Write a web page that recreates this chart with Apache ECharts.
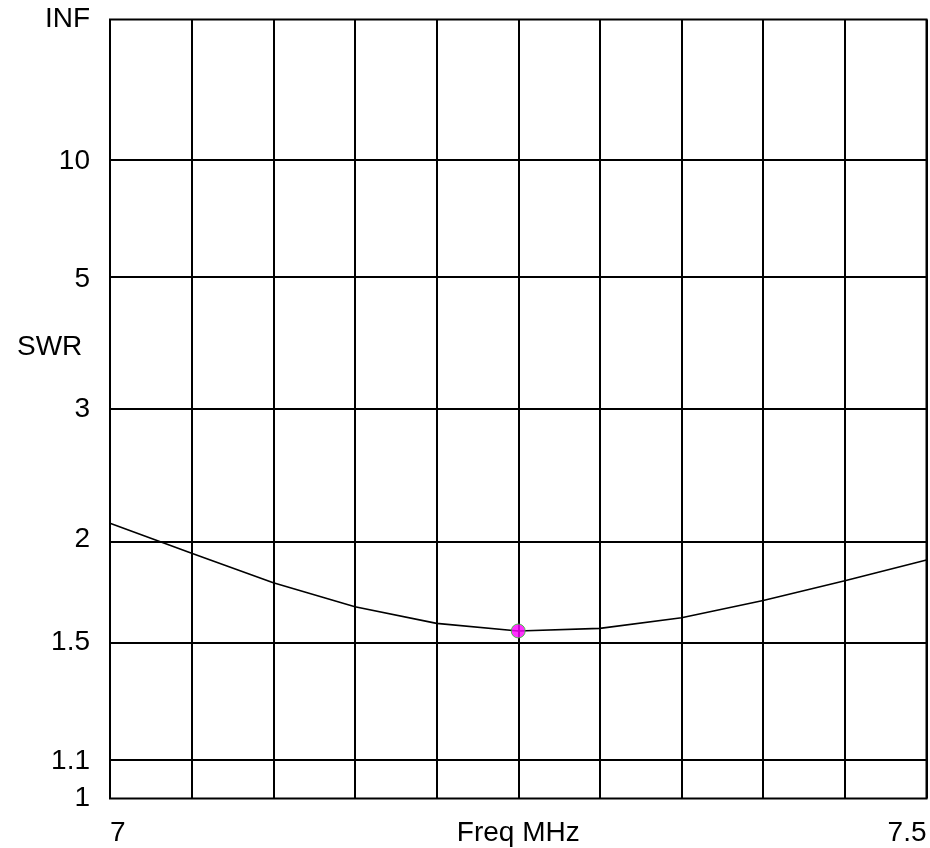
<!DOCTYPE html>
<html>
<head>
<meta charset="utf-8">
<script src="https://cdn.jsdelivr.net/npm/echarts@6/dist/echarts.min.js"></script>
<style>
  html, body { margin: 0; padding: 0; background: #ffffff; }
  #chart { width: 930px; height: 848px; }
</style>
</head>
<body>
<div id="chart"></div>
<script>
// Frequency sweep (MHz) and measured SWR at each step
const freqs = [7.0, 7.05, 7.1, 7.15, 7.2, 7.25, 7.3, 7.35, 7.4, 7.45, 7.5];
const swrValues = [2.093, 1.919, 1.766, 1.653, 1.580, 1.548, 1.559, 1.604, 1.682, 1.776, 1.883];

// Highlighted sweep point (minimum SWR)
const markerFreq = [7.25];
const markerSwr = [1.548];

// SWR scale labels (Infinity drawn as "INF")
const swrTicks = [1, 1.1, 1.5, 2, 3, 5, 10, Infinity];
const swrTickLabels = ['1', '1.1', '1.5', '2', '3', '5', '10', 'INF'];

// X axis end labels
const freqLabels = ['7', '7.5'];

// The vertical scale is linear in reflection coefficient |Γ| = (S-1)/(S+1)
function toRho(s) {
  return s === Infinity ? 1 : (s - 1) / (s + 1);
}

const FONT = '"Liberation Sans", Arial, sans-serif';
const FS = 28;

const tickRhos = swrTicks.map(toRho);
const lineData = freqs.map((f, i) => [f, toRho(swrValues[i])]);
const markerData = markerFreq.map((f, i) => [f, toRho(markerSwr[i])]);

const chart = echarts.init(document.getElementById('chart'), null, { renderer: 'canvas' });

chart.setOption({
  animation: false,
  backgroundColor: '#ffffff',
  grid: {
    left: 110, right: 3.5, top: 19.5, bottom: 49.5,
    outerBoundsMode: 'none',
    containLabel: false,
    show: true, borderColor: '#000000', borderWidth: 2,
    backgroundColor: 'transparent'
  },
  xAxis: {
    type: 'value',
    min: 7, max: 7.5, interval: 0.05,
    name: 'Freq MHz',
    nameLocation: 'middle',
    nameGap: 21,
    nameMoveOverlap: false,
    nameTextStyle: { color: '#000', fontFamily: FONT, fontSize: FS, verticalAlign: 'top' },
    axisLine: { show: false },
    axisTick: { show: false },
    splitLine: { show: true, lineStyle: { color: '#000', width: 2 } },
    axisLabel: {
      color: '#000', fontFamily: FONT, fontSize: FS, margin: 21,
      alignMinLabel: 'left', alignMaxLabel: 'right',
      formatter: function (v) {
        if (Math.abs(v - 7) < 1e-6) return freqLabels[0];
        if (Math.abs(v - 7.5) < 1e-6) return freqLabels[1];
        return '';
      }
    }
  },
  yAxis: {
    type: 'value',
    min: 0, max: 1,
    axisLine: { show: false },
    axisTick: { show: false },
    splitLine: { show: false },
    axisLabel: {
      color: '#000', fontFamily: FONT, fontSize: FS, margin: 20,
      customValues: tickRhos,
      formatter: function (v) {
        let best = 0;
        tickRhos.forEach((r, i) => { if (Math.abs(r - v) < Math.abs(tickRhos[best] - v)) best = i; });
        return swrTickLabels[best];
      }
    }
  },
  graphic: [{
    type: 'text',
    left: 17, top: 333,
    style: { text: 'SWR', fill: '#000', font: FS + 'px ' + FONT }
  }],
  series: [
    {
      type: 'line',
      data: lineData,
      showSymbol: false,
      smooth: false,
      lineStyle: { color: '#000', width: 1.6 },
      z: 3,
      markLine: {
        silent: true,
        symbol: 'none',
        label: { show: false },
        lineStyle: { color: '#000', width: 2, type: 'solid' },
        data: tickRhos.slice(1, -1).map(r => ({ yAxis: r }))
      }
    },
    {
      type: 'scatter',
      data: markerData,
      symbol: 'circle',
      symbolSize: 14,
      itemStyle: { color: '#ff00ff', borderColor: '#22cc22', borderWidth: 1 },
      z: 5
    }
  ]
});
</script>
</body>
</html>
